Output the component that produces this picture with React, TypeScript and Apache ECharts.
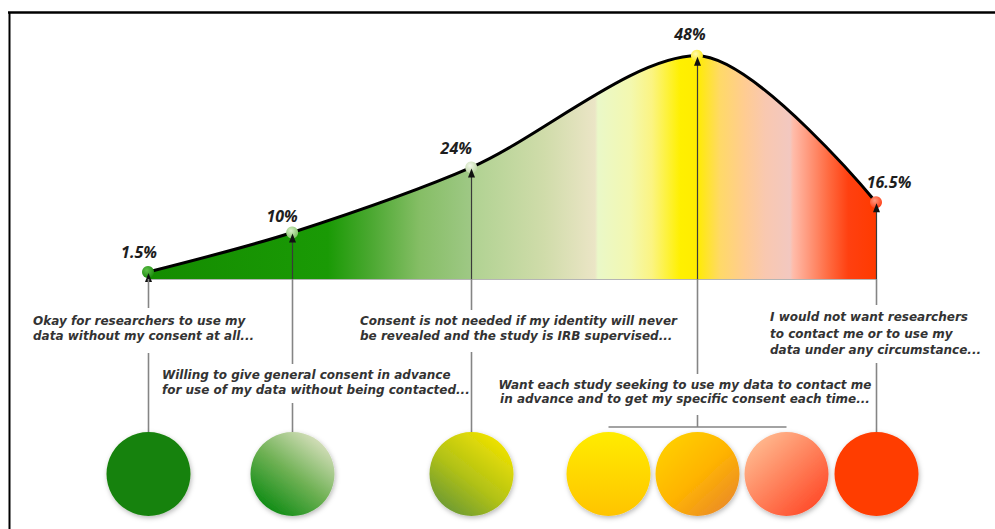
import React, { useEffect, useRef } from "react";
import * as echarts from "echarts";

// Survey shares for each consent preference, left (open) to right (closed)
const values = [1.5, 10, 24, 48, 16.5];
// Where each preference sits along the horizontal scale (0..100)
const spread = [0, 19.8, 44.4, 75.4, 100];
const percentLabels = ["1.5%", "10%", "24%", "48%", "16.5%"];

const captions = [
  "Okay for researchers to use my\ndata without my consent at all...",
  "Willing to give general consent in advance\nfor use of my data without being contacted...",
  "Consent is not needed if my identity will never\nbe revealed and the study is IRB supervised...",
  "Want each study seeking to use my data to contact me\nin advance and to get my specific consent each time...",
  "I would not want researchers\nto contact me or to use my\ndata under any circumstance...",
];

// ---- presentation settings ----
const TEXT_FONT = "italic bold 12px 'DejaVu Sans', 'Noto Sans', sans-serif";
const CIRCLE_Y = 474;
const CIRCLE_R = 42;
const CIRCLE_TOP = 432;
const BRACKET_Y = 427;
const SIDE_GAP = 89;

// vertical connector pieces below the baseline (pixel y ranges), one list per point
const connectorPieces: number[][][] = [
  [[279, 308], [353, CIRCLE_TOP]],
  [[279, 364], [403, CIRCLE_TOP]],
  [[279, 310], [352, CIRCLE_TOP]],
  [[279, 374], [415, BRACKET_Y]],
  [[279, 305], [363, CIRCLE_TOP]],
];

const captionBoxes = [
  { x: 33, y: 313.75, align: "left", lh: 14.5 },
  { x: 162, y: 367.75, align: "left", lh: 14.5 },
  { x: 360, y: 313.75, align: "left", lh: 14.5 },
  { x: 685, y: 377.25, align: "center", lh: 14.5 },
  { x: 770, y: 308.75, align: "left", lh: 16.5 },
];

const labelOffsets = [
  [-9, 0],
  [-10, 3],
  [-15, 1],
  [-7, -2],
  [13, 0],
];

const markerColors = [
  ["#5fbf4a", "#1b8a0c"],
  ["#d8f0c8", "#7cc060"],
  ["#f2f8ea", "#b9d4a0"],
  ["#fffbb0", "#ffe800"],
  ["#ff9a80", "#ff3a10"],
];

type Stop = [number, string];

const lg = (x: number, y: number, x2: number, y2: number, stops: Stop[], global = false) =>
  new echarts.graphic.LinearGradient(
    x,
    y,
    x2,
    y2,
    stops.map(([offset, color]) => ({ offset, color })),
    global
  );

// fill for a bottom circle, gradient given as direction on the unit box
const circleFill = (
  cx: number,
  cy: number,
  r: number,
  from: [number, number],
  to: [number, number],
  stops: Stop[]
) =>
  lg(
    cx - r + from[0] * 2 * r,
    cy - r + from[1] * 2 * r,
    cx - r + to[0] * 2 * r,
    cy - r + to[1] * 2 * r,
    stops,
    true
  );

const mainFills: ((cx: number, cy: number, r: number) => any)[] = [
  () => "#17820a",
  (cx, cy, r) =>
    circleFill(cx, cy, r, [0.85, 0.1], [0.2, 0.95], [
      [0, "#d6dfbc"],
      [0.5, "#6fb154"],
      [1, "#0b8a12"],
    ]),
  (cx, cy, r) =>
    circleFill(cx, cy, r, [0.85, 0.1], [0.2, 0.95], [
      [0, "#f0e200"],
      [0.55, "#b2c216"],
      [1, "#6c9a34"],
    ]),
  () => "",
  () => "#ff3c00",
];

const sideFills: ((cx: number, cy: number, r: number) => any)[] = [
  (cx, cy, r) =>
    circleFill(cx, cy, r, [0.5, 0], [0.5, 1], [
      [0, "#ffec00"],
      [1, "#ffc400"],
    ]),
  (cx, cy, r) =>
    circleFill(cx, cy, r, [0.15, 0.15], [0.85, 0.9], [
      [0, "#ffcc00"],
      [0.5, "#ffb400"],
      [1, "#ec8e26"],
    ]),
  (cx, cy, r) =>
    circleFill(cx, cy, r, [0.15, 0.15], [0.85, 0.9], [
      [0, "#ffb48a"],
      [1, "#ff4c2a"],
    ]),
];

export default function App() {
  const ref = useRef<HTMLDivElement>(null);

  useEffect(() => {
    document.body.style.margin = "0";
    if (!ref.current) return;
    const chart = echarts.init(ref.current, undefined, { renderer: "svg" });

    const areaGradient = lg(0, 0, 1, 0, [
      [0, "#148c00"],
      [0.247, "#1a9a05"],
      [0.305, "#4aa830"],
      [0.374, "#86be66"],
      [0.442, "#9ec884"],
      [0.446, "#b0d292"],
      [0.545, "#d0dcaa"],
      [0.614, "#ebe5c6"],
      [0.618, "#eaf8c8"],
      [0.662, "#f3f8b0"],
      [0.692, "#fbf482"],
      [0.731, "#fff000"],
      [0.754, "#ffec00"],
      [0.786, "#ffd968"],
      [0.82, "#ffcc92"],
      [0.848, "#f9c8b0"],
      [0.882, "#f2c8c0"],
      [0.886, "#ffbcaa"],
      [0.935, "#ff6a40"],
      [0.962, "#ff4010"],
      [1, "#ff3a00"],
    ]);

    const textEls = captionBoxes.map((p, i) => ({
      type: "text",
      x: p.x,
      y: p.y,
      z: 10,
      style: {
        text: captions[i],
        font: TEXT_FONT,
        fill: "#333333",
        align: p.align,
        verticalAlign: "top",
        lineHeight: p.lh,
      },
    }));

    chart.setOption({
      animation: false,
      grid: { left: 148, right: 119, top: 46.5, bottom: 250 },
      xAxis: {
        type: "value",
        min: 0,
        max: 100,
        axisLine: { show: true, lineStyle: { color: "#b5b5b5", width: 1 } },
        axisTick: { show: false },
        axisLabel: { show: false },
        splitLine: { show: false },
      },
      yAxis: {
        type: "value",
        min: 0,
        max: 50,
        show: false,
      },
      graphic: [
        {
          type: "line",
          shape: { x1: 8, y1: 12.5, x2: 995, y2: 12.5 },
          style: { stroke: "#000", lineWidth: 2.5 },
        },
        {
          type: "line",
          shape: { x1: 9.5, y1: 12, x2: 9.5, y2: 529 },
          style: { stroke: "#000", lineWidth: 2 },
        },
        ...textEls,
      ],
      series: [
        {
          type: "line",
          smooth: 0.3,
          z: 2,
          data: values.map((v, i) => ({
            value: [spread[i], v],
            itemStyle: {
              color: new echarts.graphic.RadialGradient(0.4, 0.35, 0.7, [
                { offset: 0, color: markerColors[i][0] },
                { offset: 1, color: markerColors[i][1] },
              ]),
              borderWidth: 0,
            },
            label: { offset: labelOffsets[i] },
          })),
          symbol: "circle",
          symbolSize: 12,
          lineStyle: { color: "#000", width: 3 },
          areaStyle: { color: areaGradient, opacity: 1 },
          label: {
            show: true,
            position: "top",
            distance: 6,
            formatter: (p: any) => percentLabels[p.dataIndex],
            fontFamily: "'Open Sans', 'Noto Sans', sans-serif",
            fontStyle: "italic",
            fontWeight: "bold",
            fontSize: 16,
            color: "#1e1e1e",
          },
        },
        {
          type: "custom",
          coordinateSystem: "cartesian2d",
          clip: false,
          z: 5,
          silent: true,
          data: values.map((v, i) => [spread[i], v, i]),
          encode: { x: 0, y: 1 },
          renderItem: (params: any, api: any) => {
            const i = api.value(2);
            const top = api.coord([api.value(0), api.value(1)]);
            const base = api.coord([api.value(0), 0]);
            const x = Math.round(top[0]) + 0.5;
            const children: any[] = [];
            // connector inside the area
            children.push({
              type: "line",
              shape: { x1: x, y1: top[1] + 8, x2: x, y2: base[1] },
              style: { stroke: "#3a3a3a", lineWidth: 1.2 },
            });
            // arrow head pointing at the data point
            children.push({
              type: "polygon",
              shape: {
                points: [
                  [x, top[1] + 1],
                  [x - 3.5, top[1] + 10],
                  [x + 3.5, top[1] + 10],
                ],
              },
              style: { fill: "#111" },
            });
            connectorPieces[i].forEach(([a, b]) => {
              children.push({
                type: "line",
                shape: { x1: x, y1: a, x2: x, y2: b },
                style: { stroke: "#858585", lineWidth: 1.6 },
              });
            });
            const shadow = {
              shadowBlur: 5,
              shadowColor: "rgba(0,0,0,0.28)",
              shadowOffsetY: 2,
              shadowOffsetX: 1,
            };
            if (i === 3) {
              children.push({
                type: "line",
                shape: { x1: x - SIDE_GAP, y1: BRACKET_Y, x2: x + SIDE_GAP, y2: BRACKET_Y },
                style: { stroke: "#858585", lineWidth: 1.6 },
              });
              [-SIDE_GAP, 0, SIDE_GAP].forEach((dx, k) => {
                const cx = x + dx;
                children.push({
                  type: "circle",
                  shape: { cx, cy: CIRCLE_Y, r: CIRCLE_R },
                  style: { fill: sideFills[k](cx, CIRCLE_Y, CIRCLE_R), ...shadow },
                });
              });
            } else {
              children.push({
                type: "circle",
                shape: { cx: x, cy: CIRCLE_Y, r: CIRCLE_R },
                style: { fill: mainFills[i](x, CIRCLE_Y, CIRCLE_R), ...shadow },
              });
            }
            return { type: "group", children };
          },
        },
      ],
    });

    return () => chart.dispose();
  }, []);

  return <div ref={ref} style={{ width: 995, height: 529 }} />;
}
